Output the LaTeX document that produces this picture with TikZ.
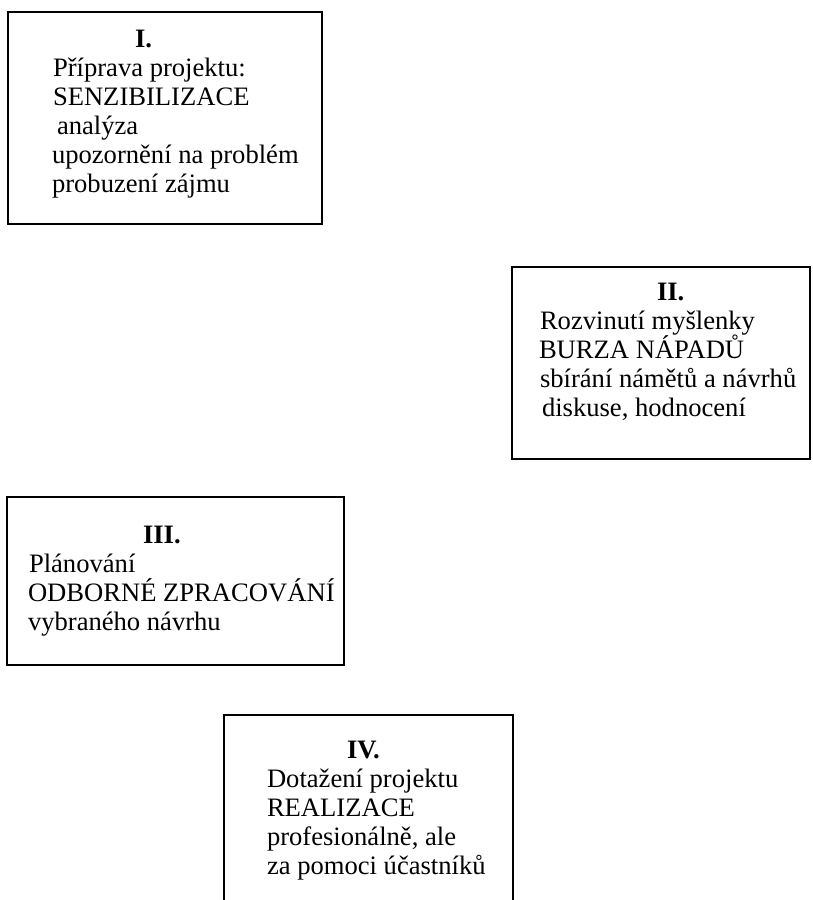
\documentclass[tikz,border=0pt]{standalone}
\usepackage{fontspec}
\setmainfont{Liberation Serif}
\begin{document}
\begin{tikzpicture}[x=1pt,y=-1pt,
  box/.style={draw=black, line width=2pt, inner sep=0pt, outer sep=0pt},
  txt/.style={anchor=base west, inner sep=0pt, outer sep=0pt, font=\fontsize{26.6}{29}\selectfont},
  hdr/.style={txt, font=\fontsize{26.6}{29}\selectfont\bfseries}]
\clip (0,0) rectangle (812,900);
\fill[white] (0,0) rectangle (812,900);
% boxes
\node[box, minimum width=314pt, minimum height=212pt] (b1) at (165,118) {};
\node[box, minimum width=298pt, minimum height=192pt] (b2) at (661,363) {};
\node[box, minimum width=337pt, minimum height=168pt] (b3) at (175.5,581) {};
\node[box, minimum width=289pt, minimum height=220pt] (b4) at (368.5,825) {};
% box I
\node[hdr] (t1h) at (135,47) {I.};
\node[txt] (t1a) at (53,76) {Příprava projektu:};
\node[txt] (t1b) at (53,105) {SENZIBILIZACE};
\node[txt] (t1c) at (57,134) {analýza};
\node[txt] (t1d) at (52,163) {upozornění na problém};
\node[txt] (t1e) at (52,192) {probuzení zájmu};
% box II
\node[hdr] (t2h) at (657,300) {II.};
\node[txt] (t2a) at (540,329) {Rozvinutí myšlenky};
\node[txt] (t2b) at (539,358) {BURZA NÁPADŮ};
\node[txt] (t2c) at (540,387) {sbírání námětů a návrhů};
\node[txt] (t2d) at (542,416) {diskuse, hodnocení};
% box III
\node[hdr] (t3h) at (143,543) {III.};
\node[txt] (t3a) at (29,572) {Plánování};
\node[txt] (t3b) at (28,601) {ODBORNÉ ZPRACOVÁNÍ};
\node[txt] (t3c) at (28,630) {vybraného návrhu};
% box IV
\node[hdr] (t4h) at (347,758) {IV.};
\node[txt] (t4a) at (267,787) {Dotažení projektu};
\node[txt] (t4b) at (267,816) {REALIZACE};
\node[txt] (t4c) at (267,845) {profesionálně, ale};
\node[txt] (t4d) at (267,874) {za pomoci účastníků};
\end{tikzpicture}
\end{document}
